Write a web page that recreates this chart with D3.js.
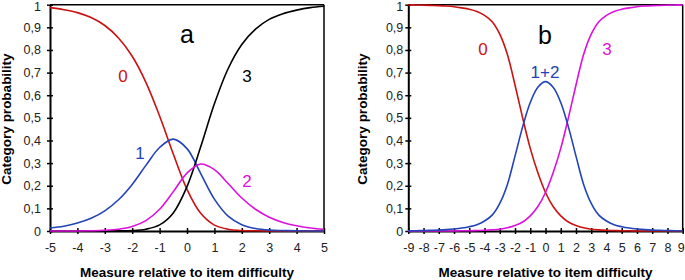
<!DOCTYPE html>
<html><head><meta charset="utf-8">
<script src="https://cdn.jsdelivr.net/npm/d3@7"></script>
<style>
html,body{margin:0;padding:0;background:#fff;}
svg{display:block;font-family:"Liberation Sans",Arial,sans-serif;}
</style></head>
<body><svg id="c" width="685" height="280"></svg>
<script>
// ---- Data ----
const yTicks = [0,0.1,0.2,0.3,0.4,0.5,0.6,0.7,0.8,0.9,1];
const xTicksA = [-5,-4,-3,-2,-1,0,1,2,3,4,5];
const xTicksB = [-9,-8,-7,-6,-5,-4,-3,-2,-1,0,1,2,3,4,5,6,7,8,9];

const xA = [-5,-4.5,-4,-3.5,-3,-2.5,-2,-1.5,-1,-0.5,0,0.5,1,1.5,2,2.5,3,3.5,4,4.5,5];
const a0 = [0.987,0.978,0.965,0.943,0.908,0.853,0.772,0.657,0.508,0.340,0.184,0.078,0.026,0.008,0.002,0.001,0,0,0,0,0];
const a1 = [0.013,0.021,0.035,0.056,0.089,0.138,0.206,0.290,0.369,0.406,0.364,0.254,0.141,0.066,0.028,0.011,0.004,0.002,0.001,0,0];
const a2 = [0,0,0,0.001,0.003,0.008,0.020,0.046,0.096,0.174,0.256,0.296,0.271,0.210,0.146,0.096,0.061,0.038,0.023,0.013,0.007];
const a3 = [0,0,0,0,0,0.001,0.002,0.008,0.027,0.080,0.196,0.372,0.562,0.717,0.824,0.892,0.935,0.960,0.976,0.987,0.993];

const xB = [-9,-8.5,-8,-7.5,-7,-6.5,-6,-5.5,-5,-4.5,-4,-3.5,-3,-2.5,-2,-1.5,-1,-0.5,0,0.5,1,1.5,2,2.5,3,3.5,4,4.5,5,5.5,6,6.5,7,7.5,8,8.5,9];
const b0 = [0.999,0.999,0.998,0.997,0.996,0.994,0.991,0.986,0.980,0.970,0.953,0.925,0.870,0.780,0.645,0.500,0.365,0.257,0.170,0.108,0.067,0.040,0.024,0.014,0.008,0.005,0.003,0.002,0.001,0.001,0,0,0,0,0,0,0];
const b12 = [0.001,0.001,0.002,0.003,0.004,0.006,0.009,0.013,0.019,0.028,0.044,0.070,0.122,0.206,0.331,0.460,0.568,0.635,0.660,0.635,0.568,0.460,0.331,0.206,0.122,0.070,0.044,0.028,0.019,0.013,0.009,0.006,0.004,0.003,0.002,0.001,0.001];
const b3 = [0,0,0,0,0,0,0,0.001,0.001,0.002,0.003,0.005,0.008,0.014,0.024,0.040,0.067,0.108,0.170,0.257,0.365,0.500,0.645,0.780,0.870,0.925,0.953,0.970,0.980,0.986,0.991,0.994,0.996,0.997,0.998,0.999,0.999];

const RED = "#cc1111", BLUE = "#2343b8", MAG = "#dd10dd", BLK = "#000";

const svg = d3.select("#c");
const fmt = d => d === 0 ? "0" : d === 1 ? "1" : String(d).replace(".", ",");

function panel(opt) {
  const x = d3.scaleLinear().domain(opt.xdom).range(opt.xr);
  const y = d3.scaleLinear().domain([0, 1]).range([231, 4.7]);
  const g = svg.append("g");

  // frame (top/right)
  g.append("line").attr("x1", x.range()[0]).attr("x2", x.range()[1]).attr("y1", y(1)).attr("y2", y(1))
    .attr("stroke", "#000").attr("stroke-width", 1.5);
  g.append("line").attr("x1", x.range()[1]).attr("x2", x.range()[1]).attr("y1", y(1)).attr("y2", y(0))
    .attr("stroke", "#000").attr("stroke-width", 1.5);

  const ax = g.append("g").attr("transform", `translate(0,${y(0)})`)
    .call(d3.axisBottom(x).tickValues(opt.xt).tickSizeInner(3).tickSizeOuter(0).tickPadding(9).tickFormat(d => String(d)));
  ax.selectAll(".tick line").attr("y1", -3).attr("stroke-width", 1.5);
  ax.select(".domain").attr("stroke-width", 2);
  ax.selectAll("text").attr("font-size", 12.5).attr("fill", "#222").attr("font-family", "Liberation Sans, Arial, sans-serif");
  ax.selectAll(".tick").filter(d => d === opt.xdom[1] && opt.edge).select("text").attr("dx", -2);

  const ay = g.append("g").attr("transform", `translate(${x.range()[0]},0)`)
    .call(d3.axisLeft(y).tickValues(yTicks).tickSizeInner(3).tickSizeOuter(0).tickPadding(opt.ypad).tickFormat(fmt));
  ay.selectAll(".tick line").attr("x1", 3).attr("stroke-width", 1.5);
  ay.select(".domain").attr("stroke-width", 2);
  ay.selectAll("text").attr("font-size", 12.5).attr("fill", "#222").attr("font-family", "Liberation Sans, Arial, sans-serif");
  ay.selectAll(".tick").filter(d => d === 1).select("text").attr("dy", "0.45em");

  // titles
  g.append("text").attr("x", (x.range()[0] + x.range()[1]) / 2).attr("y", 277)
    .attr("text-anchor", "middle").attr("font-weight", "bold").attr("font-size", 13.5)
    .text("Measure relative to item difficulty");
  g.append("text").attr("transform", `translate(${opt.ytx},119) rotate(-90)`)
    .attr("text-anchor", "middle").attr("font-weight", "bold").attr("font-size", 13.5)
    .text("Category probability");

  const line = d3.line().x((d, i) => x(opt.xs[i])).y(d => y(d)).curve(d3.curveCatmullRom.alpha(0.5));
  opt.series.forEach(s => {
    g.append("path").attr("d", line(s.v)).attr("fill", "none").attr("stroke", s.c).attr("stroke-width", 1.6);
  });
  opt.labels.forEach(l => {
    g.append("text").attr("x", l.x).attr("y", l.y).attr("text-anchor", "middle").attr("fill", l.c)
      .attr("font-size", l.s).text(l.t);
  });
}

panel({
  xdom: [-5, 5], xr: [50, 324], xt: xTicksA, ypad: 6, ytx: 11, xs: xA, edge: false,
  series: [{v: a0, c: RED}, {v: a1, c: BLUE}, {v: a3, c: BLK}, {v: a2, c: MAG}],
  labels: [
    {t: "a", x: 187, y: 43, c: "#000", s: 25},
    {t: "0", x: 123, y: 82, c: RED, s: 17},
    {t: "3", x: 247, y: 82, c: "#000", s: 17},
    {t: "1", x: 140, y: 159, c: BLUE, s: 17},
    {t: "2", x: 247, y: 187, c: MAG, s: 17}
  ]
});
panel({
  xdom: [-9, 9], xr: [408.3, 682.7], xt: xTicksB, ypad: 2, ytx: 366.5, xs: xB, edge: true,
  series: [{v: b0, c: RED}, {v: b3, c: MAG}, {v: b12, c: BLUE}],
  labels: [
    {t: "b", x: 545, y: 44, c: "#000", s: 25},
    {t: "0", x: 483, y: 55, c: RED, s: 17},
    {t: "1+2", x: 545, y: 78, c: BLUE, s: 17},
    {t: "3", x: 607, y: 55, c: MAG, s: 17}
  ]
});
</script></body></html>
